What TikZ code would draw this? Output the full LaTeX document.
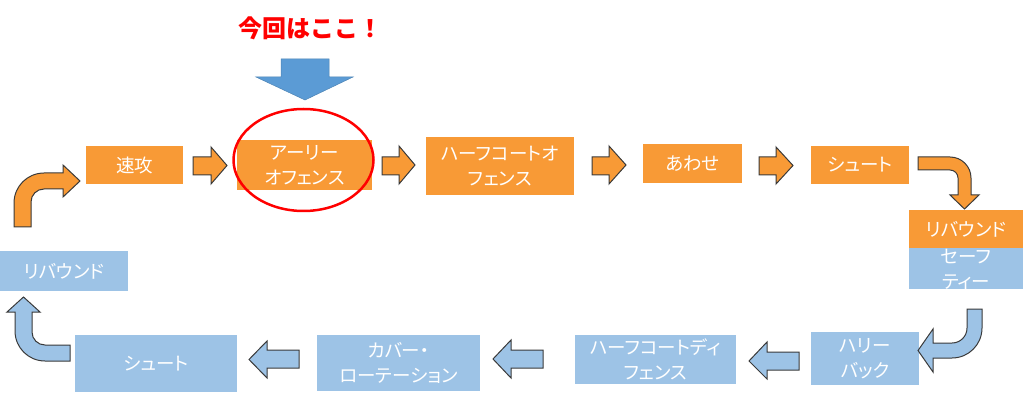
\documentclass[tikz,border=0pt]{standalone}
\usepackage{fontspec}
\setmainfont{Noto Sans CJK JP}[RawFeature=+palt]
\newfontfamily\titlefont{Noto Sans CJK JP}
\usetikzlibrary{shapes.geometric}
\definecolor{org}{HTML}{F89A36}
\definecolor{lblue}{HTML}{9DC3E6}
\definecolor{dblue}{HTML}{5B9BD5}
\definecolor{outl}{HTML}{3A3A3A}
\begin{document}
\begin{tikzpicture}[x=1pt,y=-1pt,
  box/.style={rectangle, inner sep=0pt, text=white, align=center,
    font=\fontsize{18.5}{25}\selectfont},
  obox/.style={box, fill=org},
  bbox/.style={box, fill=lblue},
  oarrow/.style={fill=org, draw=outl, line width=1pt, line join=miter},
  barrow/.style={fill=lblue, draw=outl, line width=1pt, line join=miter}]
\useasboundingbox (0,0) rectangle (1024,403);

% title and pointer
\node[text=red, font=\titlefont\bfseries\fontsize{24}{28}\selectfont] (title) at (310,28) {今回はここ！};
\draw[fill=dblue, draw=dblue!85!black, line width=0.5pt]
  (281,59) -- (329,59) -- (329,77) -- (353,77) -- (305,100) -- (256,77) -- (281,77) -- cycle;

% top row (orange)
\node[obox, minimum width=97pt, minimum height=38pt] (sokko) at (134.5,165) {速攻};
\node[obox, minimum width=135pt, minimum height=50pt] (early) at (304.5,165) {アーリー\\オフェンス};
\node[obox, minimum width=148pt, minimum height=58pt] (halfo) at (500,166) {ハーフコートオ\\フェンス};
\node[obox, minimum width=99pt, minimum height=39pt] (awase) at (692.5,163.5) {あわせ};
\node[obox, minimum width=98pt, minimum height=38pt] (shoot1) at (860,165) {シュート};

% right box
\node[obox, minimum width=114pt, minimum height=38pt] (rebr) at (966,229) {リバウンド};
\node[bbox, minimum width=114pt, minimum height=41pt] (safety) at (966,268.5) {};
\begin{scope}
  \clip (909,248) rectangle (1023,289);
  \node[box] (safetytxt) at (966,270) {セーフ\\ティー};
\end{scope}

% bottom row (blue)
\node[bbox, minimum width=108pt, minimum height=53pt] (hurry) at (865,358.5) {ハリー\\バック};
\node[bbox, minimum width=161pt, minimum height=49pt] (halfd) at (655.5,359.5) {ハーフコートディ\\フェンス};
\node[bbox, minimum width=163pt, minimum height=56pt] (cover) at (398.5,363) {カバー・\\ローテーション};
\node[bbox, minimum width=162pt, minimum height=57pt] (shoot2) at (156,363.5) {シュート};
\node[bbox, minimum width=128pt, minimum height=40pt] (rebl) at (64,271) {リバウンド};

% highlight ellipse
\node[draw=red, line width=2.5pt, ellipse, minimum width=140pt, minimum height=102pt] (mark) at (303.5,160) {};

% straight orange arrows
\draw[oarrow] (193,157) -- (211,157) -- (211,147) -- (227,165.5) -- (211,184) -- (211,175) -- (193,175) -- cycle;
\draw[oarrow] (382,157) -- (399,157) -- (399,146) -- (415,165) -- (399,184) -- (399,175) -- (382,175) -- cycle;
\draw[oarrow] (592,157) -- (609,157) -- (609,146) -- (626,165) -- (609,184) -- (609,175) -- (592,175) -- cycle;
\draw[oarrow] (759,157) -- (776,157) -- (776,147) -- (793,165.5) -- (776,184) -- (776,175) -- (759,175) -- cycle;

% curved orange arrows
\draw[oarrow] (14,227) -- (14,203) .. controls (14,186.4) and (27.4,173) .. (44,173)
  -- (63,173) -- (63,165) -- (80,181) -- (63,197) -- (63,189) -- (44,189)
  .. controls (36.8,189) and (31,194.8) .. (31,202) -- (31,227) -- cycle;
\draw[oarrow] (918,157) -- (950,157) .. controls (961.6,157) and (971,166.4) .. (971,178)
  -- (971,195) -- (979,195) -- (964.5,209) -- (950,195) -- (958,195) -- (958,178)
  .. controls (958,173.6) and (954.4,170) .. (950,170) -- (918,170) -- cycle;

% curved blue arrows
\draw[barrow] (982,309) -- (982,328) .. controls (982,344.6) and (968.6,358) .. (952,358)
  -- (933,358) -- (933,372) -- (918,350.5) -- (933,329) -- (933,343) -- (952,343)
  .. controls (960.3,343) and (967,336.3) .. (967,328) -- (967,309) -- cycle;
\draw[barrow] (70,361) -- (45,361) .. controls (28.4,361) and (15,347.6) .. (15,331)
  -- (15,312) -- (7,312) -- (23.5,297) -- (40,312) -- (32,312) -- (32,332)
  .. controls (32,339.2) and (37.8,345) .. (45,345) -- (70,345) -- cycle;

% straight blue arrows
\draw[barrow] (799,352) -- (767,352) -- (767,342) -- (749,361) -- (767,379) -- (767,370) -- (799,370) -- cycle;
\draw[barrow] (543,350) -- (511,350) -- (511,340) -- (493,359) -- (511,378) -- (511,368) -- (543,368) -- cycle;
\draw[barrow] (299,350) -- (267,350) -- (267,341) -- (249,359.5) -- (267,378) -- (267,368) -- (299,368) -- cycle;
\end{tikzpicture}
\end{document}
